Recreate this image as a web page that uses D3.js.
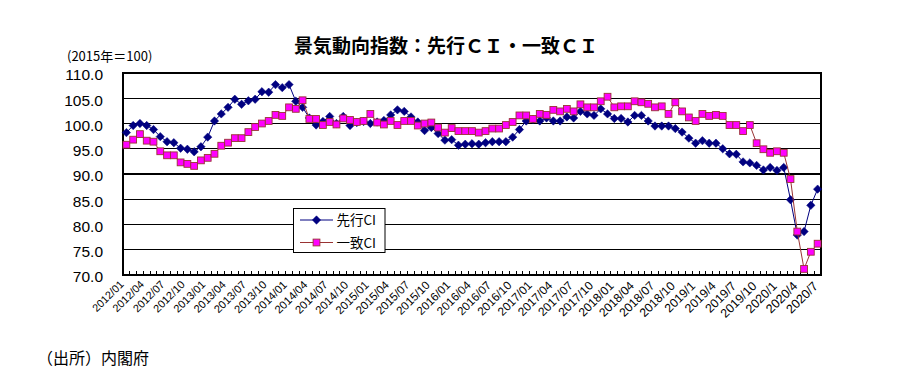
<!DOCTYPE html>
<html><head><meta charset="utf-8">
<script src="https://cdn.jsdelivr.net/npm/d3@7"></script>
<style>
html,body{margin:0;padding:0;background:#fff;}
svg{display:block;}
</style></head>
<body>
<svg id="chart" width="899" height="372"></svg>
<script>
// ---- data ----
const title = "景気動向指数：先行ＣＩ・一致ＣＩ";
const unitLabel = "(2015年＝100)";
const sourceLabel = "（出所）内閣府";
const seriesNames = ["先行CI", "一致CI"];
const startYear = 2012, startMonth = 1, nMonths = 103;
const leading = [98.2,99.6,100.0,99.6,98.8,97.4,96.4,96.2,95.1,94.9,94.4,95.4,
  97.3,100.5,101.9,103.2,104.8,103.8,104.5,104.8,106.3,106.2,107.7,107.1,
  107.7,104.4,103.2,101.1,99.7,100.4,101.4,100.0,101.4,99.6,100.2,100.4,
  100.0,100.3,100.6,101.7,102.7,102.4,101.3,100.3,98.6,99.2,98.0,96.7,
  96.8,95.7,95.9,96.0,95.9,96.2,96.4,96.4,96.4,97.3,98.8,100.5,
  100.8,100.5,101.1,100.5,100.5,101.3,101.1,102.4,101.9,101.6,102.9,101.9,
  101.0,101.0,100.3,101.6,101.6,100.5,99.5,99.5,99.5,99.0,98.3,97.1,
  96.1,96.6,96.1,96.1,95.0,94.0,93.9,92.4,92.2,91.7,90.8,91.3,
  90.7,91.3,84.9,77.9,78.6,83.8,87.0];
const coincident = [95.8,96.8,97.9,96.6,96.4,94.5,93.7,93.7,92.3,92.0,91.6,92.7,
  93.2,94.0,95.6,96.2,97.1,97.1,98.3,99.3,100.0,100.5,101.7,101.5,
  103.2,102.9,104.6,100.9,100.9,99.7,100.3,99.8,101.0,100.7,100.3,100.5,
  101.9,100.2,99.8,100.5,99.7,100.5,100.5,99.6,100.0,100.2,99.2,98.2,
  99.1,98.5,98.5,98.5,98.2,98.5,99.0,99.0,99.7,100.3,101.6,101.6,
  100.9,101.9,101.7,102.7,102.4,102.9,102.4,103.8,103.2,103.2,104.4,105.3,
  103.2,103.4,103.4,104.4,104.2,103.9,103.2,103.4,101.9,104.2,102.4,101.2,
  100.5,101.9,101.5,101.7,101.5,99.7,99.7,98.5,99.7,96.1,94.9,94.2,
  94.5,94.2,89.0,78.6,71.2,74.6,76.2];
const xTickLabels = ["2012/01","2012/04","2012/07","2012/10","2013/01","2013/04","2013/07","2013/10",
  "2014/01","2014/04","2014/07","2014/10","2015/01","2015/04","2015/07","2015/10",
  "2016/01","2016/04","2016/07","2016/10","2017/01","2017/04","2017/07","2017/10",
  "2018/01","2018/04","2018/07","2018/10","2019/1","2019/4","2019/7","2019/10",
  "2020/1","2020/4","2020/7"];
const yTicks = [70,75,80,85,90,95,100,105,110];

// categories (month keys)
const categories = [];
for (let i = 0; i < nMonths; i++) {
  const m = startMonth - 1 + i;
  categories.push((startYear + Math.floor(m / 12)) + "/" + String(m % 12 + 1).padStart(2, "0"));
}
const labelCats = xTickLabels.map((t, k) => categories[k * 3]);

// ---- layout ----
const L = 123, R = 821, T = 73, B = 275;
const svg = d3.select("#chart");
const x = d3.scaleBand().domain(categories).range([L, R]).padding(0);
const y = d3.scaleLinear().domain([70, 110]).range([B, T]);
const cx = c => x(c) + x.bandwidth() / 2;

const jp = "'Noto Sans CJK JP','Noto Sans',sans-serif";
const lat = "'Liberation Sans',Arial,sans-serif";

// title
svg.append("text").attr("x", 446).attr("y", 53).attr("text-anchor", "middle")
  .attr("font-family", jp).attr("font-weight", "bold").attr("font-size", 19)
  .attr("fill", "#000").text(title);
svg.append("text").attr("x", 67).attr("y", 61)
  .attr("font-family", jp).attr("font-size", 13).attr("fill", "#000").text(unitLabel);

// gridlines
svg.append("g").selectAll("line").data(yTicks).join("line")
  .attr("x1", L).attr("x2", R).attr("y1", d => y(d)).attr("y2", d => y(d))
  .attr("stroke", "#000").attr("stroke-width", 1.2).attr("shape-rendering", "crispEdges");

// y axis labels
const yAxis = d3.axisLeft(y).tickValues(yTicks).tickSize(0).tickPadding(20)
  .tickFormat(d3.format(".1f"));
const gy = svg.append("g").attr("transform", `translate(${L},0)`).call(yAxis);
gy.select(".domain").remove();
gy.selectAll("text").attr("font-family", lat).attr("font-size", 15.5)
  .attr("fill", "#000").attr("dy", "0.45em");

// plot border
svg.append("rect").attr("x", L).attr("y", T).attr("width", R - L).attr("height", B - T)
  .attr("fill", "none").attr("stroke", "#000").attr("stroke-width", 1.2)
  .attr("shape-rendering", "crispEdges");

// x minor ticks (inward) at band boundaries
const tickPos = categories.map(c => x(c)).concat([R]);
svg.append("g").selectAll("line").data(tickPos).join("line")
  .attr("x1", d => d).attr("x2", d => d).attr("y1", B).attr("y2", B - 4)
  .attr("stroke", "#000").attr("stroke-width", 1).attr("shape-rendering", "crispEdges");

// x labels (reference labels grow gradually from left to right)
const nL = xTickLabels.length - 1;
const fs = k => 10.8 + 1.8 * k / nL;
svg.append("g").selectAll("text").data(xTickLabels).join("text")
  .attr("transform", (d, k) =>
    `translate(${cx(labelCats[k]) - 2 + 3 * k / nL},${B + 10 + 2 * k / nL}) rotate(-45)`)
  .attr("text-anchor", "end").attr("font-family", lat)
  .attr("font-size", (d, k) => fs(k))
  .attr("fill", "#000").text(d => d);

// series
const lineGen = d3.line().x((d, i) => cx(categories[i])).y(d => y(d));
const navy = "#000080", mag = "#FF00FF", red = "#993333";

svg.append("path").datum(leading).attr("d", lineGen)
  .attr("fill", "none").attr("stroke", navy).attr("stroke-width", 1);
const diamond = s => `M0,${-s}L${s},0L0,${s}L${-s},0Z`;
svg.append("g").selectAll("path").data(leading).join("path")
  .attr("transform", (d, i) => `translate(${cx(categories[i])},${y(d)})`)
  .attr("d", diamond(4.2)).attr("fill", navy).attr("stroke", navy).attr("stroke-width", 0.5);

svg.append("path").datum(coincident).attr("d", lineGen)
  .attr("fill", "none").attr("stroke", red).attr("stroke-width", 1);
svg.append("g").selectAll("rect").data(coincident).join("rect")
  .attr("x", (d, i) => cx(categories[i]) - 3.4).attr("y", d => y(d) - 3.4)
  .attr("width", 6.8).attr("height", 6.8)
  .attr("fill", mag).attr("stroke", red).attr("stroke-width", 0.9);

// legend
const lg = svg.append("g");
lg.append("rect").attr("x", 293.5).attr("y", 208.5).attr("width", 91.5).attr("height", 44)
  .attr("fill", "#fff").attr("stroke", "#000").attr("stroke-width", 1);
const ly = [220, 242.5];
lg.append("line").attr("x1", 300).attr("x2", 333).attr("y1", ly[0]).attr("y2", ly[0])
  .attr("stroke", navy).attr("stroke-width", 1);
lg.append("path").attr("transform", `translate(316.5,${ly[0]})`).attr("d", diamond(4.2))
  .attr("fill", navy).attr("stroke", navy).attr("stroke-width", 0.5);
lg.append("line").attr("x1", 300).attr("x2", 333).attr("y1", ly[1]).attr("y2", ly[1])
  .attr("stroke", red).attr("stroke-width", 1);
lg.append("rect").attr("x", 316.5 - 3.4).attr("y", ly[1] - 3.4).attr("width", 6.8).attr("height", 6.8)
  .attr("fill", mag).attr("stroke", red).attr("stroke-width", 0.9);
seriesNames.forEach((n, k) => {
  lg.append("text").attr("x", 336.5).attr("y", ly[k] + 5).attr("font-family", jp)
    .attr("font-size", 13.5).attr("fill", "#000").text(n);
});

// source
svg.append("text").attr("x", 37).attr("y", 364).attr("font-family", jp)
  .attr("font-size", 16).attr("fill", "#000").text(sourceLabel);
</script>
</body></html>
